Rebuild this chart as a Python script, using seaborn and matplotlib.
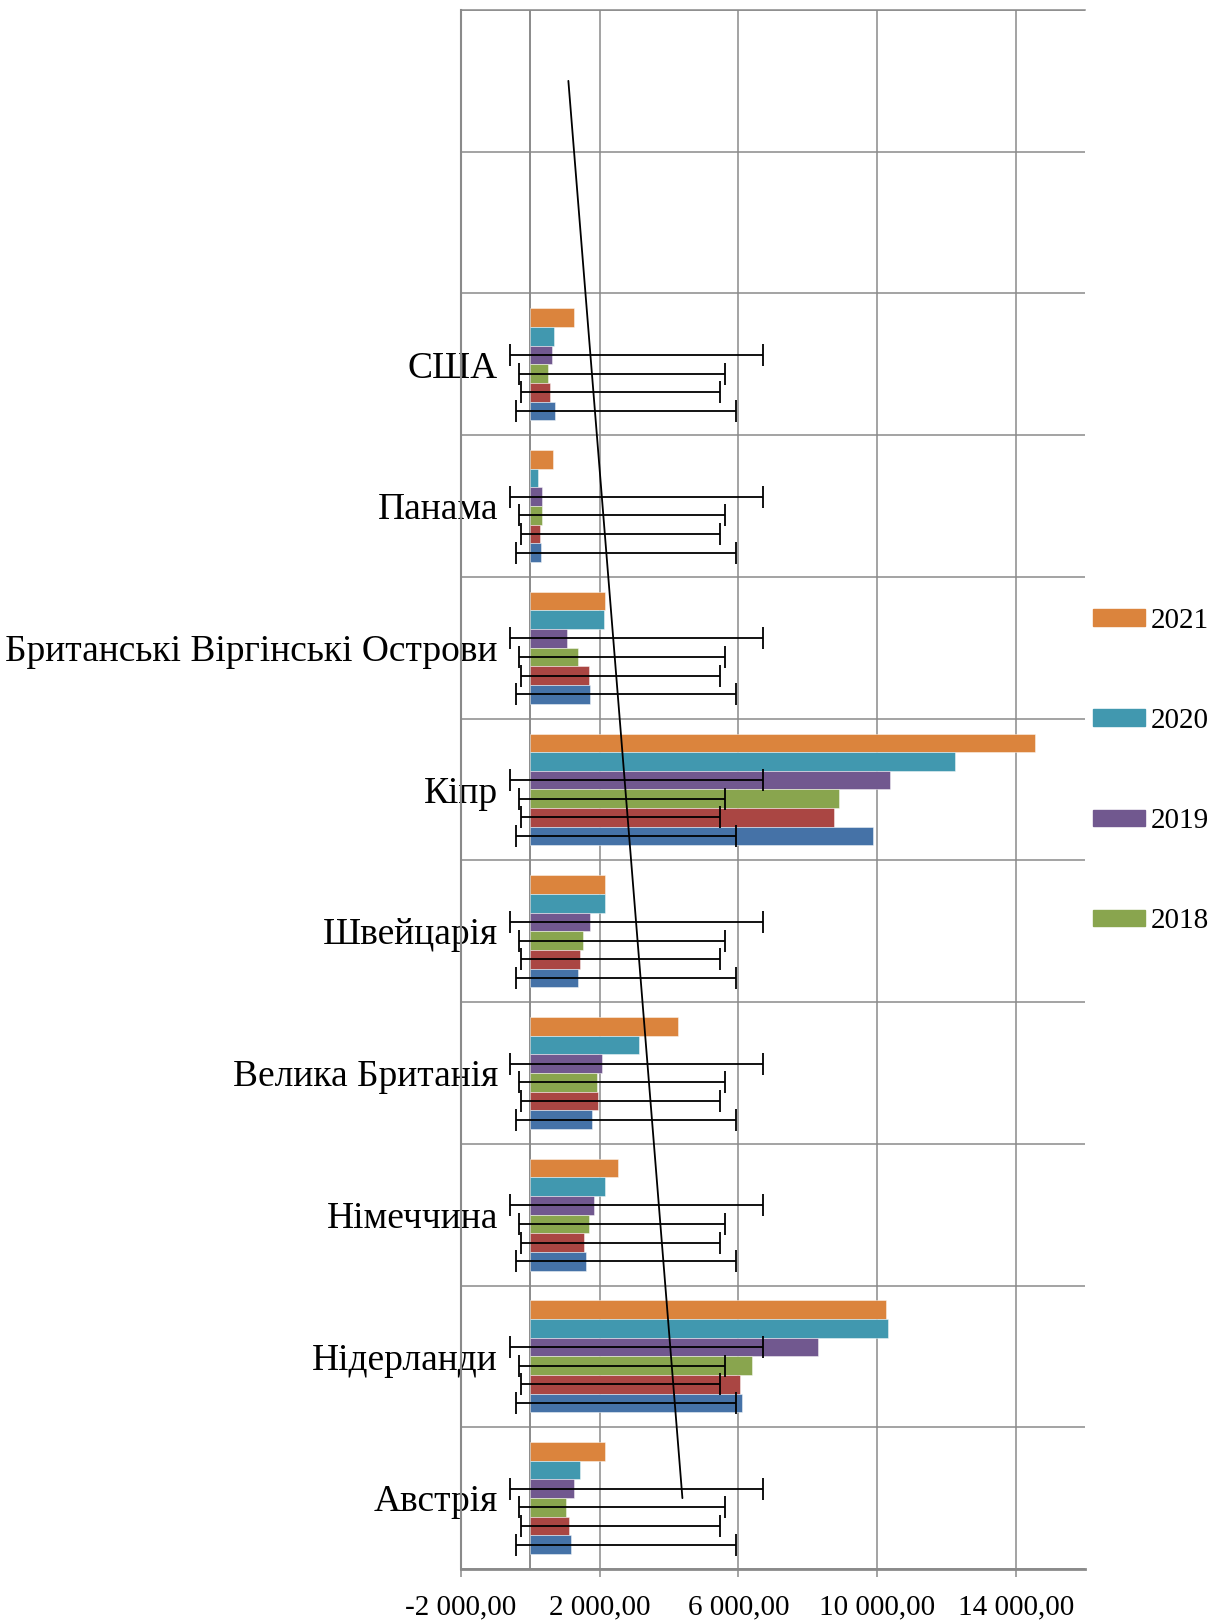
import pandas as pd
import numpy as np
import matplotlib
matplotlib.use('Agg')
import matplotlib.pyplot as plt
import seaborn as sns
from matplotlib.ticker import FuncFormatter, FixedLocator

# categories top to bottom (two empty rows on top)
empty_rows = [' ', '  ']
countries = ['США', 'Панама', 'Британські Віргінські Острови', 'Кіпр',
             'Швейцарія', 'Велика Британія', 'Німеччина', 'Нідерланди', 'Австрія']

years = ['2016', '2017', '2018', '2019', '2020', '2021']
v2016 = [715, 309, 1720, 9878, 1382, 1787, 1604, 6103, 1161]
v2017 = [580, 280, 1681, 8773, 1430, 1952, 1556, 6039, 1110]
v2018 = [512, 328, 1362, 8917, 1507, 1932, 1681, 6387, 1032]
v2019 = [638, 328, 1053, 10376, 1710, 2058, 1845, 8304, 1252]
v2020 = [696, 222, 2126, 12254, 2164, 3130, 2164, 10318, 1445]
v2021 = [1256, 657, 2155, 14564, 2145, 4271, 2541, 10260, 2155]

# error bar extents (low, high) per series
err_range = {'2016': (-425, 5932), '2017': (-258, 5475),
             '2018': (-330, 5623), '2019': (-578, 6710)}

# trend line values: at bottom category and at top category
trend_bottom = 4387
trend_top = 1097

colors = {'2016': '#4572A7', '2017': '#AA4643', '2018': '#89A54E',
          '2019': '#71588F', '2020': '#4198AF', '2021': '#DB843D'}
legend_years = ['2021', '2020', '2019', '2018']

xticks = [-2000, 2000, 6000, 10000, 14000]
grey = '#8a8a8a'


def fmt(v, pos):
    s = '{:,.2f}'.format(v)
    return s.replace(',', ' ').replace('.', ',')


if __name__ == '__main__':
    sns.set_style('white')
    plt.rcParams['font.family'] = ['Liberation Serif', 'DejaVu Serif']
    plt.rcParams['text.color'] = 'black'

    series = [v2016, v2017, v2018, v2019, v2020, v2021]
    rows = []
    for y, vals in zip(years, series):
        for c, v in zip(countries, vals):
            rows.append({'country': c, 'year': y, 'value': v})
    df = pd.DataFrame(rows)

    fig = plt.figure(figsize=(12.17, 16.2), dpi=100)
    ax = fig.add_axes([461 / 1217, 51 / 1620, 624 / 1217, 1559 / 1620])

    order = empty_rows + countries
    hue_order = years[::-1]
    sns.barplot(data=df, x='value', y='country', hue='year', order=order,
                hue_order=hue_order, palette=colors, orient='h', width=0.79,
                saturation=1, errorbar=None, edgecolor=(1, 1, 1, 0.45),
                linewidth=0.7, legend=False, ax=ax)

    # error bars on the first four series
    for yr, cont in zip(hue_order, ax.containers):
        if yr not in err_range:
            continue
        lo, hi = err_range[yr]
        for p in cont.patches:
            yc = p.get_y() + p.get_height() / 2
            ax.errorbar((lo + hi) / 2, yc, xerr=(hi - lo) / 2, fmt='none',
                        ecolor='black', elinewidth=1.3, capsize=8,
                        capthick=1.3, zorder=5)

    # trend line
    ax.plot([trend_bottom, trend_top], [len(order) - 1, 0], color='black',
            lw=1.3, zorder=6)

    ax.set_xlim(-2000, 16000)
    ax.set_ylim(len(order) - 0.5, -0.5)
    ax.set_xticks(xticks)
    ax.xaxis.set_major_formatter(FuncFormatter(fmt))
    ax.yaxis.set_minor_locator(FixedLocator(np.arange(-0.5, len(order), 1.0)))
    ax.set_axisbelow(True)
    ax.grid(True, axis='x', which='major', color=grey, lw=1.1)
    ax.grid(True, axis='y', which='minor', color=grey, lw=1.1)
    ax.axvline(0, color=grey, lw=1.4, zorder=0.5)

    ax.set_xlabel('')
    ax.set_ylabel('')
    ax.tick_params(axis='x', labelsize=21, length=6, width=1.1, color=grey,
                   pad=12, direction='out', bottom=True, labelcolor='black')
    ax.tick_params(axis='y', which='both', length=0, labelsize=27, pad=-26.6,
                   labelcolor='black')

    for side in ['left', 'bottom', 'top']:
        ax.spines[side].set_color(grey)
    ax.spines['left'].set_linewidth(1.5)
    ax.spines['bottom'].set_linewidth(2)
    ax.spines['top'].set_linewidth(1.1)
    ax.spines['right'].set_visible(False)

    # legend (only the visible part of it)
    handles = [plt.Rectangle((0, 0), 1, 1, color=colors[y]) for y in legend_years]
    fig.legend(handles, legend_years, loc='upper left',
               bbox_to_anchor=(1093 / 1217, 1 - 608 / 1620), frameon=False,
               fontsize=21, handlelength=1.78, handleheight=0.5,
               handletextpad=0.2, labelspacing=2.54, borderpad=0,
               borderaxespad=0)

    plt.savefig('out.png', dpi=100)
